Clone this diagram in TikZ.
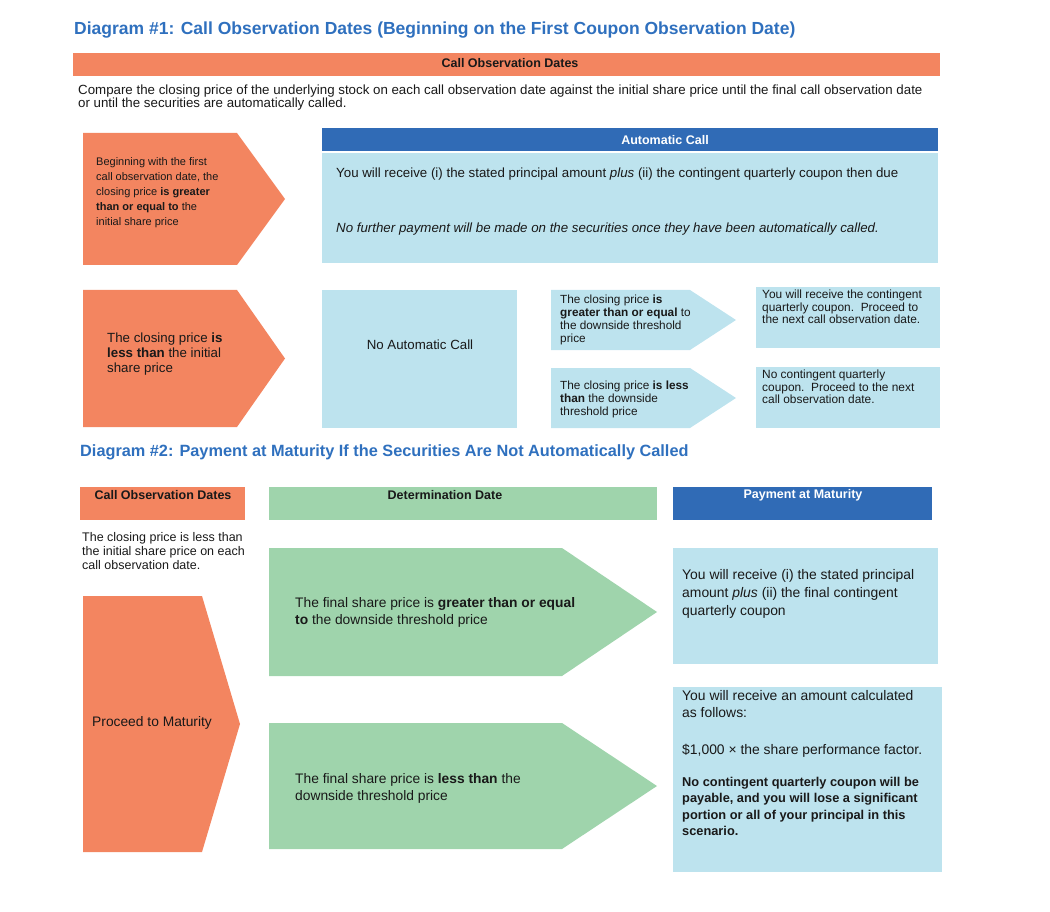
\documentclass[tikz,border=0pt]{standalone}
\usepackage{fontspec}
\setmainfont{Liberation Sans}
\usetikzlibrary{positioning}
\definecolor{coral}{RGB}{243,133,96}
\definecolor{sky}{RGB}{189,227,238}
\definecolor{mint}{RGB}{159,212,172}
\definecolor{royal}{RGB}{48,107,182}
\definecolor{headblue}{RGB}{47,112,190}
\definecolor{ink}{RGB}{25,25,25}
\tikzset{
  heading/.style  = {anchor=west, inner sep=0pt, text=headblue,
                     font=\bfseries\fontsize{16.3}{18}\selectfont},
  barlabel/.style = {inner sep=0pt, text=ink, font=\bfseries\fontsize{12.5}{14}\selectfont},
  note/.style     = {anchor=north west, inner sep=0pt, align=left, text=ink},
  small/.style    = {note, font=\fontsize{11.8}{13}\selectfont},
  mid/.style      = {note, font=\fontsize{13.3}{15}\selectfont},
  big/.style      = {note, font=\fontsize{13.8}{17.5}\selectfont},
}
% pentagon arrow: colour, left, top, shoulder, tip, bottom
\newcommand{\pentarrow}[6]{%
  \fill[#1] (#2,#3) -- (#4,#3) -- (#5,{(#3+#6)/2}) -- (#4,#6) -- (#2,#6) -- cycle;}

\begin{document}
\begin{tikzpicture}[x=1pt, y=-1pt]
\useasboundingbox (0,0) rectangle (1050,912);

% ---------------- diagram 1 ----------------
\node[heading, font=\bfseries\fontsize{17.5}{20}\selectfont] (title1) at (74,30)
  {Diagram \#1: Call Observation Dates (Beginning on the First Coupon Observation Date)};

\fill[coral] (73,53) rectangle (940,76);
\node[barlabel] (calldates) at (510,63) {Call Observation Dates};
\node[note, font=\fontsize{13.3}{13}\selectfont] (compare) at (78,85)
  {Compare the closing price of the underlying stock on each call observation date against the initial share price until the final call observation date\\
   or until the securities are automatically called.};

% called branch
\pentarrow{coral}{83}{133}{237}{285}{265}
\node[small, font=\fontsize{11}{15}\selectfont] (greater) at (96,157)
  {Beginning with the first\\ call observation date, the\\ closing price \textbf{is greater}\\
   \textbf{than or equal to} the\\ initial share price};
\fill[royal] (322,128) rectangle (938,151);
\node[barlabel, text=white] (autocall) at (665,140) {Automatic Call};
\fill[sky] (322,153) rectangle (938,263);
\node[mid] (receive) at (336,168)
  {You will receive (i) the stated principal amount \textit{plus} (ii) the contingent quarterly coupon then due};
\node[mid] (nofurther) at (336,223)
  {\textit{No further payment will be made on the securities once they have been automatically called.}};

% not called branch
\pentarrow{coral}{83}{290}{237}{285}{427}
\node[small, font=\fontsize{13.3}{15}\selectfont] (less) at (107,333)
  {The closing price \textbf{is}\\ \textbf{less than} the initial\\ share price};
\fill[sky] (322,290) rectangle (517,428);
\node[inner sep=0pt, text=ink, font=\fontsize{13.3}{15}\selectfont] (noauto) at (420,345) {No Automatic Call};

\pentarrow{sky}{551}{290}{690}{736}{350}
\node[small] (abovethr) at (560,295)
  {The closing price \textbf{is}\\ \textbf{greater than or equal} to\\ the downside threshold\\ price};
\fill[sky] (756,287) rectangle (940,348);
\node[small, font=\fontsize{11.9}{12.5}\selectfont] (coupon) at (762,290)
  {You will receive the contingent\\ quarterly coupon.\ \ Proceed to\\ the next call observation date.};

\pentarrow{sky}{551}{368}{690}{736}{428}
\node[small] (belowthr) at (560,381)
  {The closing price \textbf{is less}\\ \textbf{than} the downside\\ threshold price};
\fill[sky] (756,367) rectangle (940,428);
\node[small, font=\fontsize{11.9}{12.5}\selectfont] (nocoupon) at (762,370)
  {No contingent quarterly\\ coupon.\ \ Proceed to the next\\ call observation date.};

% ---------------- diagram 2 ----------------
\node[heading] (title2) at (80,452)
  {Diagram \#2: Payment at Maturity If the Securities Are Not Automatically Called};

\fill[coral] (80,487) rectangle (245,520);
\node[barlabel] (obsdates) at (163,495) {Call Observation Dates};
\fill[mint] (269,487) rectangle (657,520);
\node[barlabel] (detdate) at (445,495) {Determination Date};
\fill[royal] (673,487) rectangle (932,520);
\node[barlabel, text=white] (paymat) at (803,495) {Payment at Maturity};

\node[mid, font=\fontsize{12.5}{14}\selectfont] (eachdate) at (82,532)
  {The closing price is less than\\ the initial share price on each\\ call observation date.};
\pentarrow{coral}{83}{596}{202}{240}{852}
\node[inner sep=0pt, anchor=west, text=ink, font=\fontsize{13.8}{16}\selectfont] (maturity) at (92,723)
  {Proceed to Maturity};

\pentarrow{mint}{269}{548}{562}{657}{676}
\node[big] (finalabove) at (295,597)
  {The final share price is \textbf{greater than or equal}\\ \textbf{to} the downside threshold price};
\pentarrow{mint}{269}{723}{562}{657}{849}
\node[big] (finalbelow) at (295,773)
  {The final share price is \textbf{less than} the\\ downside threshold price};

\fill[sky] (673,548) rectangle (938,664);
\node[big, font=\fontsize{13.9}{18}\selectfont] (principal) at (682,569)
  {You will receive (i) the stated principal\\ amount \textit{plus} (ii) the final contingent\\ quarterly coupon};
\fill[sky] (673,687) rectangle (942,872);
\node[big, font=\fontsize{13.9}{17.5}\selectfont] (amount) at (682,690)
  {You will receive an amount calculated\\ as follows:};
\node[big, font=\fontsize{13.9}{17.5}\selectfont] (factor) at (682,744)
  {\$1,000 × the share performance factor.};
\node[big, font=\bfseries\fontsize{12.8}{16.5}\selectfont] (loss) at (682,777)
  {No contingent quarterly coupon will be\\ payable, and you will lose a significant\\ portion or all of your principal in this\\ scenario.};
\end{tikzpicture}
\end{document}
